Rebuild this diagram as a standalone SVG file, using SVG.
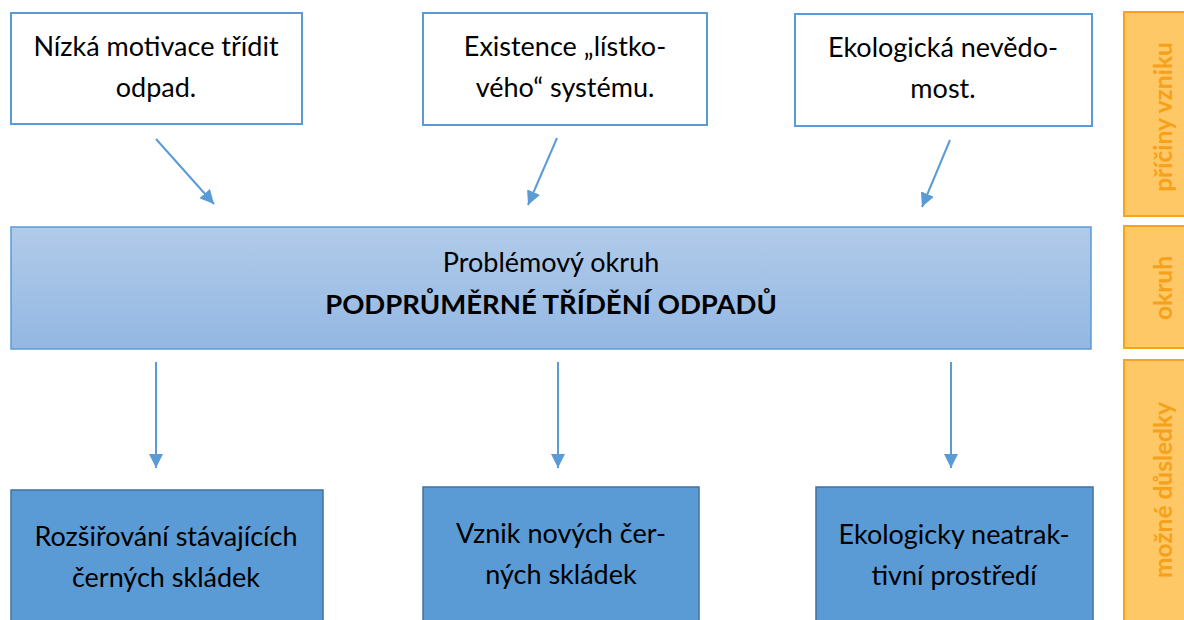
<svg xmlns="http://www.w3.org/2000/svg" width="1184" height="620" viewBox="0 0 1184 620">
<style>
.top{fill:#ffffff;stroke:#5b9bd5;stroke-width:2}
.bot{fill:#5b9bd5;stroke:#41719c;stroke-width:1.5}
.side{fill:#fec867;stroke:#f9a21b;stroke-width:2}
.t{font-family:Lato,"Liberation Sans",sans-serif;font-size:27px;fill:#000;text-anchor:middle}
.tb{font-family:Lato,"Liberation Sans",sans-serif;font-size:27.5px;font-weight:bold;fill:#000;text-anchor:middle}
.s{font-family:Lato,"Liberation Sans",sans-serif;font-size:24.5px;font-weight:bold;fill:#f7a01a;text-anchor:middle}
.c{stroke:#5b9bd5;stroke-width:2;fill:none;marker-end:url(#ah2)}
</style>
<defs>
<linearGradient id="g" x1="0" y1="0" x2="0" y2="1">
<stop offset="0" stop-color="#b1cbe9"/>
<stop offset="1" stop-color="#93b7e3"/>
</linearGradient>
<marker id="ah2" viewBox="0 0 14 14" refX="14" refY="7" markerWidth="14" markerHeight="14" markerUnits="userSpaceOnUse" orient="auto">
<path d="M0,0 L14,7 L0,14 z" fill="#5b9bd5"/>
</marker>
</defs>
<g id="n1"><rect class="top" x="11" y="13" width="291" height="111"/>
<text class="t" x="156" y="56">Nízká motivace třídit</text><text class="t" x="156" y="97">odpad.</text></g>
<g id="n2"><rect class="top" x="423" y="13" width="284" height="112"/>
<text class="t" x="565" y="56">Existence „lístko-</text><text class="t" x="565" y="97">vého“ systému.</text></g>
<g id="n3"><rect class="top" x="795" y="14" width="297" height="112"/>
<text class="t" x="943" y="57">Ekologická nevědo-</text><text class="t" x="943" y="98">most.</text></g>
<g id="main"><rect x="11" y="227" width="1080" height="122" fill="url(#g)" stroke="#5b9bd5" stroke-width="1.5"/>
<text class="t" x="551" y="272">Problémový okruh</text>
<text class="tb" x="551" y="314">PODPRŮMĚRNÉ TŘÍDĚNÍ ODPADŮ</text></g>
<g id="b1"><rect class="bot" x="11" y="490" width="312" height="140"/>
<text class="t" x="166" y="546">Rozšiřování stávajících</text><text class="t" x="166" y="587">černých skládek</text></g>
<g id="b2"><rect class="bot" x="423" y="487" width="276" height="140"/>
<text class="t" x="561" y="543">Vznik nových čer-</text><text class="t" x="561" y="584">ných skládek</text></g>
<g id="b3"><rect class="bot" x="816" y="487" width="277" height="140"/>
<text class="t" x="954" y="544">Ekologicky neatrak-</text><text class="t" x="954" y="585">tivní prostředí</text></g>
<g id="s1"><rect class="side" x="1124" y="12" width="70" height="204"/>
<text class="s" transform="translate(1172,117) rotate(-90)">příčiny vzniku</text></g>
<g id="s2"><rect class="side" x="1124" y="226" width="70" height="122"/>
<text class="s" transform="translate(1172,288) rotate(-90)">okruh</text></g>
<g id="s3"><rect class="side" x="1124" y="360" width="70" height="270"/>
<text class="s" transform="translate(1172,490) rotate(-90)">možné důsledky</text></g>
<g id="connectors">
<line class="c" x1="156" y1="139" x2="214" y2="204"/>
<line class="c" x1="557" y1="138" x2="528" y2="205"/>
<line class="c" x1="950" y1="140" x2="922" y2="207"/>
<line class="c" x1="156" y1="362" x2="156" y2="468"/>
<line class="c" x1="558" y1="362" x2="558" y2="468"/>
<line class="c" x1="951" y1="362" x2="951" y2="468"/>
</g>
</svg>
